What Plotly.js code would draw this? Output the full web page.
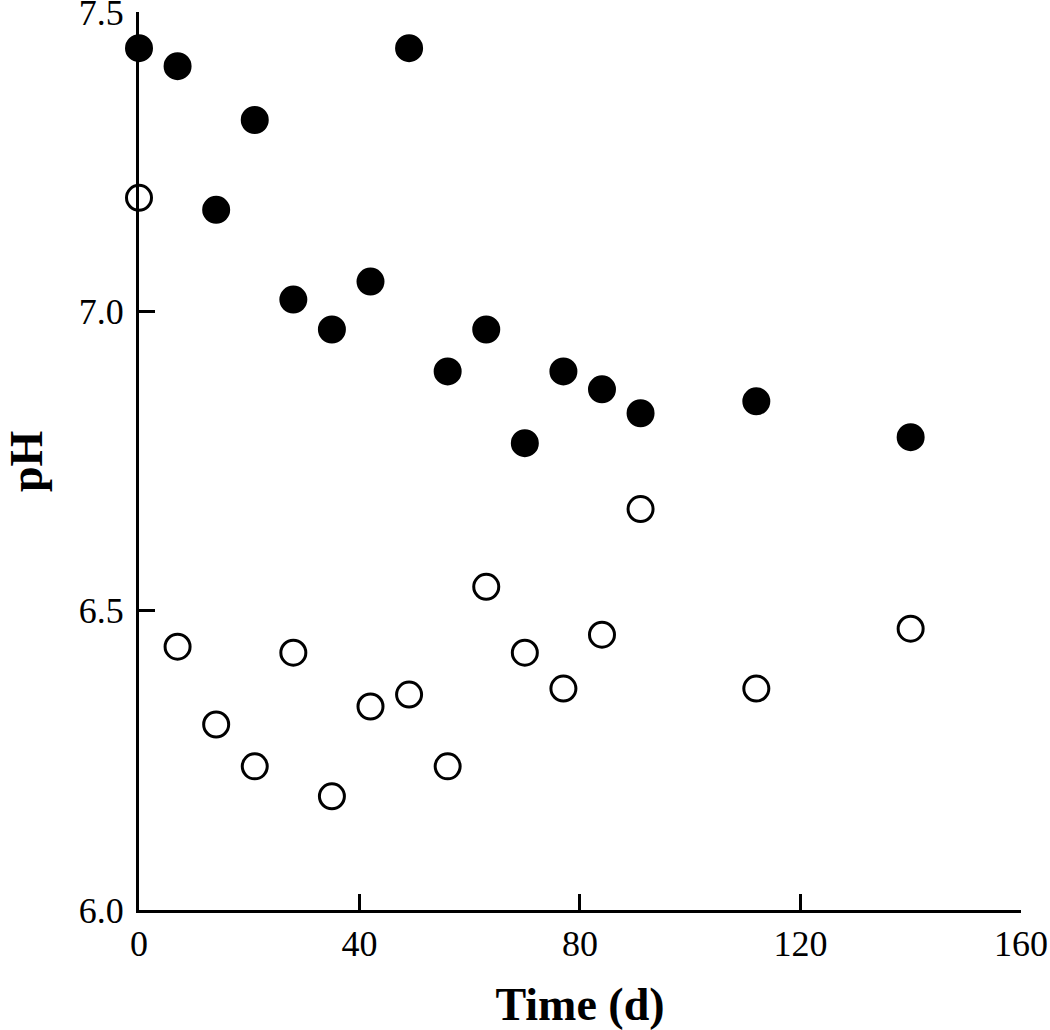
<!DOCTYPE html>
<html>
<head>
<meta charset="utf-8">
<script src="https://cdn.plot.ly/plotly-3.0.1.min.js"></script>
<style>html,body{margin:0;padding:0;background:#fff;}</style>
</head>
<body>
<div id="chart" style="width:1050px;height:1030px;"></div>
<script>
var timeDays = [0, 7, 14, 21, 28, 35, 42, 49, 56, 63, 70, 77, 84, 91, 112, 140];
var phFilled = [7.44, 7.41, 7.17, 7.32, 7.02, 6.97, 7.05, 7.44, 6.90, 6.97, 6.78, 6.90, 6.87, 6.83, 6.85, 6.79];
var phOpen = [7.19, 6.44, 6.31, 6.24, 6.43, 6.19, 6.34, 6.36, 6.24, 6.54, 6.43, 6.37, 6.46, 6.67, 6.37, 6.47];
var xTicks = [0, 40, 80, 120, 160];
var yTicks = [6.0, 6.5, 7.0, 7.5];
var yTickText = ['6.0', '6.5', '7.0', '7.5'];

var font = 'Liberation Serif, Times New Roman, serif';

var traces = [
  {
    x: timeDays, y: phFilled, type: 'scatter', mode: 'markers', name: 'filled',
    marker: {symbol: 'circle', size: 25, color: '#000', line: {color: '#000', width: 3}},
    cliponaxis: false
  },
  {
    x: timeDays, y: phOpen, type: 'scatter', mode: 'markers', name: 'open',
    marker: {symbol: 'circle', size: 25, color: '#fff', line: {color: '#000', width: 3}},
    cliponaxis: false
  }
];

var layout = {
  width: 1050, height: 1030,
  margin: {l: 139, r: 29, t: 12, b: 120},
  paper_bgcolor: '#fff', plot_bgcolor: '#fff',
  showlegend: false,
  font: {family: font, color: '#000', size: 36},
  xaxis: {
    range: [0, 160.02], tickvals: xTicks, ticktext: xTicks.map(String),
    ticks: 'inside', ticklen: 16, tickwidth: 3, tickcolor: '#000',
    showline: true, linecolor: '#000', linewidth: 3,
    showgrid: false, zeroline: false,
    tickfont: {family: font, size: 36, color: '#000'},
    ticklabeloverflow: 'allow',
    title: {text: '<b>Time (d)</b>', font: {family: font, size: 46, color: '#000'}, standoff: 26},
    automargin: false
  },
  yaxis: {
    range: [6.0, 7.5005], tickvals: yTicks, ticktext: yTickText,
    ticks: 'inside', ticklen: 16, tickwidth: 3, tickcolor: '#000',
    showline: true, linecolor: '#000', linewidth: 3,
    showgrid: false, zeroline: false,
    tickfont: {family: font, size: 36, color: '#000'},
    ticklabelstandoff: 5,
    ticklabeloverflow: 'allow',
    automargin: false
  },
  annotations: [{
    text: '<b>pH</b>', xref: 'paper', yref: 'paper', x: -0.128, y: 0.5,
    xanchor: 'center', yanchor: 'middle', textangle: -90, showarrow: false,
    font: {family: font, size: 46, color: '#000'}
  }]
};

Plotly.newPlot('chart', traces, layout, {displayModeBar: false, staticPlot: true});
</script>
</body>
</html>
